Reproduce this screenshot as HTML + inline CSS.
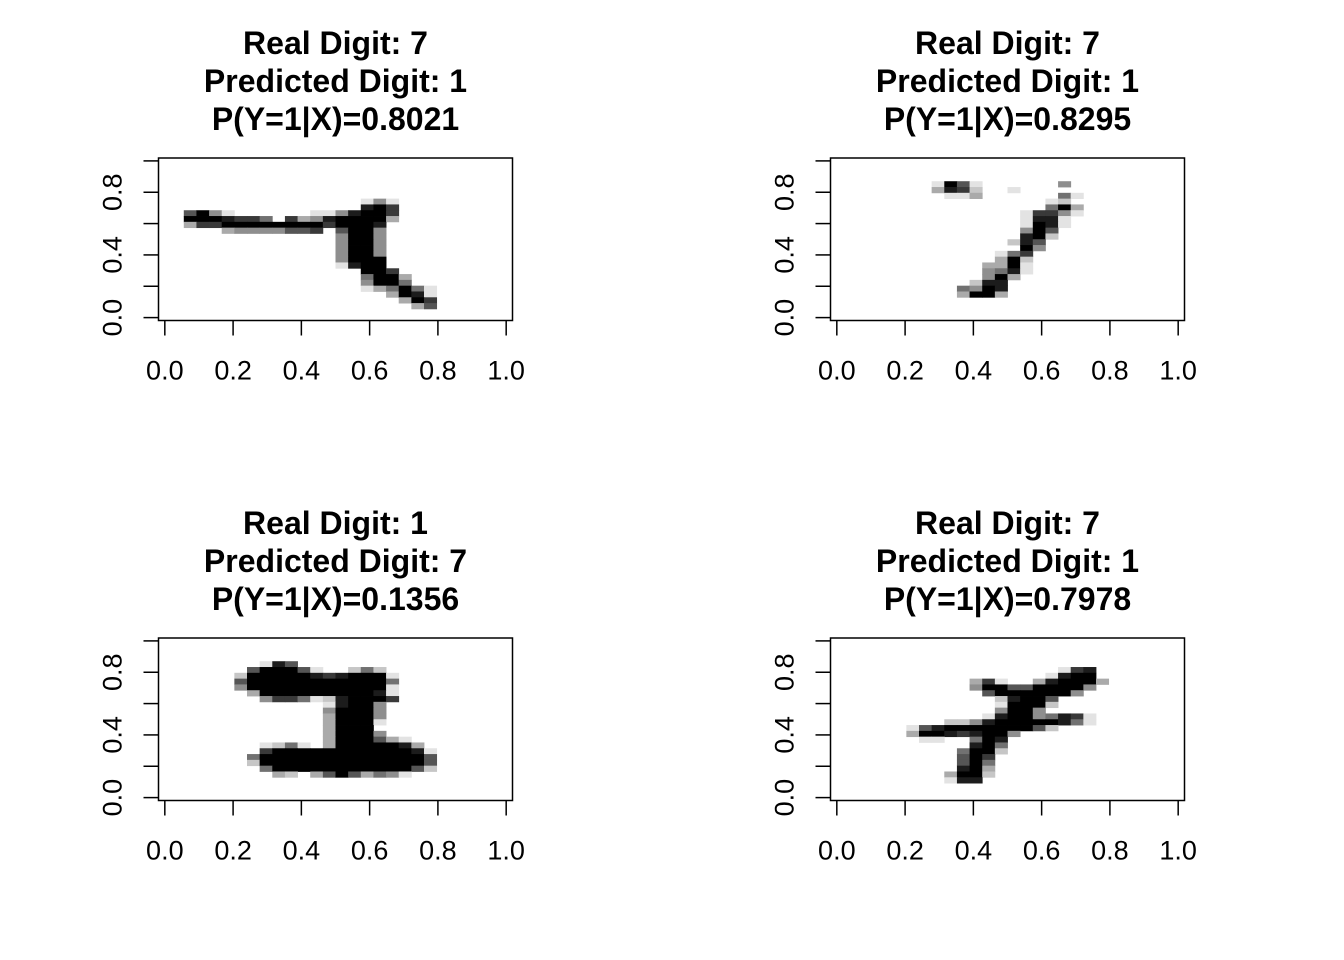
<!DOCTYPE html>
<html><head><meta charset="utf-8"><style>
body{margin:0;background:#fff}
svg{display:block}
text{font-family:"Liberation Sans",Arial,sans-serif}
</style></head><body>
<svg id="chart" width="1344" height="960" viewBox="0 0 1344 960" xmlns="http://www.w3.org/2000/svg"></svg>
<script>
// Panel titles
const realDigits = [7, 7, 1, 7];
const predDigits = [1, 1, 7, 1];
const probs = ["0.8021", "0.8295", "0.1356", "0.7978"];
const xTicks = [0, 0.2, 0.4, 0.6, 0.8, 1.0];
const xTickLabels = ["0.0", "0.2", "0.4", "0.6", "0.8", "1.0"];
const yTicks = [0, 0.2, 0.4, 0.6, 0.8, 1.0];
const yTickLabels = ["0.0", "", "0.4", "", "0.8", ""];
// Sparse pixel rows: "row,startCol,intensities(0-9)"
const img1 = ["7,16,141","8,16,897","9,2,69410000001148997","10,2,99987750734899993","11,2,3779999999979998","12,5,3444466706994","13,14,4994","14,14,4994","15,14,4994","16,14,4994","17,14,4999","18,14,1899","19,16,997","20,16,5993","21,16,4995","22,16,135951","23,18,3981","24,19,397","25,20,36"];
const img2 = ["4,8,19610000004","5,8,387200100","6,9,11300000051","7,17,12","8,17,593","9,15,17741","10,15,1881","11,15,1981","12,15,496","13,15,892","14,14,286","15,15,94","16,13,157","17,13,392","18,12,3391","19,12,4581","20,12,493","21,11,288","22,10,5498","23,10,3993"];
const img3 = ["4,8,1860","5,7,69996100252","6,6,2999998789991","7,6,6999999999995","8,6,4999999999991","9,7,399999999981","10,8,47751289997","11,13,18994","12,13,49994","13,13,39994","14,13,39991","15,13,3999","16,13,39994","17,13,3999631","18,8,1251039999983","19,8,79999999999981","20,7,599999999999996","21,7,299999999999996","22,8,59999999999962","23,9,320369635410"];
const img4 = ["5,18,178","6,17,1899","7,11,37100389993","8,11,4996699994","9,12,69999994","10,13,28996","11,13,19992","12,13,4994","13,12,189945871","14,9,224899999851","15,6,168999999962","16,6,399878994","17,7,1100598","18,11,895","19,10,5992","20,10,697","21,10,695","22,10,893","23,9,3992","24,9,188"];
const images = [img1, img2, img3, img4];

const svg = document.getElementById('chart');
const NS = 'http://www.w3.org/2000/svg';
function mk(tag, attrs){const e=document.createElementNS(NS,tag);for(const k in attrs)e.setAttribute(k,attrs[k]);svg.appendChild(e);return e;}

const panelOrigins = [[0,0],[672,0],[0,480],[672,480]];
const BOX_L=158.5, BOX_R=512.5, BOX_T=158, BOX_B=320.5;
const N=28;

images.forEach((img, p) => {
  const [ox, oy] = panelOrigins[p];
  const L=BOX_L+ox, R=BOX_R+ox, T=BOX_T+oy, B=BOX_B+oy;
  const cw=(R-L)/N, ch=(B-T)/N;
  const xScale = v => L + cw/2 + v*(R-L-cw);
  const yScale = v => B - ch/2 - v*(B-T-ch);
  img.forEach(s => {
    const parts = s.split(',');
    const r = +parts[0], c0 = +parts[1], vals = parts[2];
    for (let i=0;i<vals.length;i++){
      const v = parseInt(vals[i]);
      if (!v) continue;
      const g = Math.round(255*(1 - v/9));
      const cell = mk('rect',{x:(L+(c0+i)*cw).toFixed(2), y:(T+r*ch).toFixed(2), width:(cw+0.4).toFixed(2), height:(ch+0.4).toFixed(2), fill:`rgb(${g},${g},${g})`});
      
      
    }
  });
  const box = mk('rect',{x:L,y:T,width:R-L,height:B-T,fill:'none',stroke:'#000','stroke-width':1.5});
  
  
  xTicks.forEach((t,i) => {
    const x = xScale(t);
    const tk = mk('line',{x1:x,x2:x,y1:B,y2:B+15,stroke:'#000','stroke-width':1.5});
    
    
    const lb = mk('text',{x:x,y:B+59,'font-size':27,'text-anchor':'middle'});
    lb.textContent = xTickLabels[i];
    
    
  });
  yTicks.forEach((t,i) => {
    const y = yScale(t);
    const tk = mk('line',{x1:L-15,x2:L,y1:y,y2:y,stroke:'#000','stroke-width':1.5});
    
    
    if (yTickLabels[i]) {
      const tx = L-37, ty = y;
      const lb = mk('text',{x:0,y:0,'font-size':27,'text-anchor':'middle',transform:`translate(${tx},${ty}) rotate(-90)`});
      lb.textContent = yTickLabels[i];
      
      
    }
  });
  const cx = (L+R)/2;
  const lines = ["Real Digit: "+realDigits[p], "Predicted Digit: "+predDigits[p], "P(Y=1|X)="+probs[p]];
  lines.forEach((t,i) => {
    const tt = mk('text',{x:cx,y:oy+54+i*38,'font-size':32,'font-weight':'bold','text-anchor':'middle'});
    tt.textContent = t;
    
    
  });
});
</script>
</body></html>
